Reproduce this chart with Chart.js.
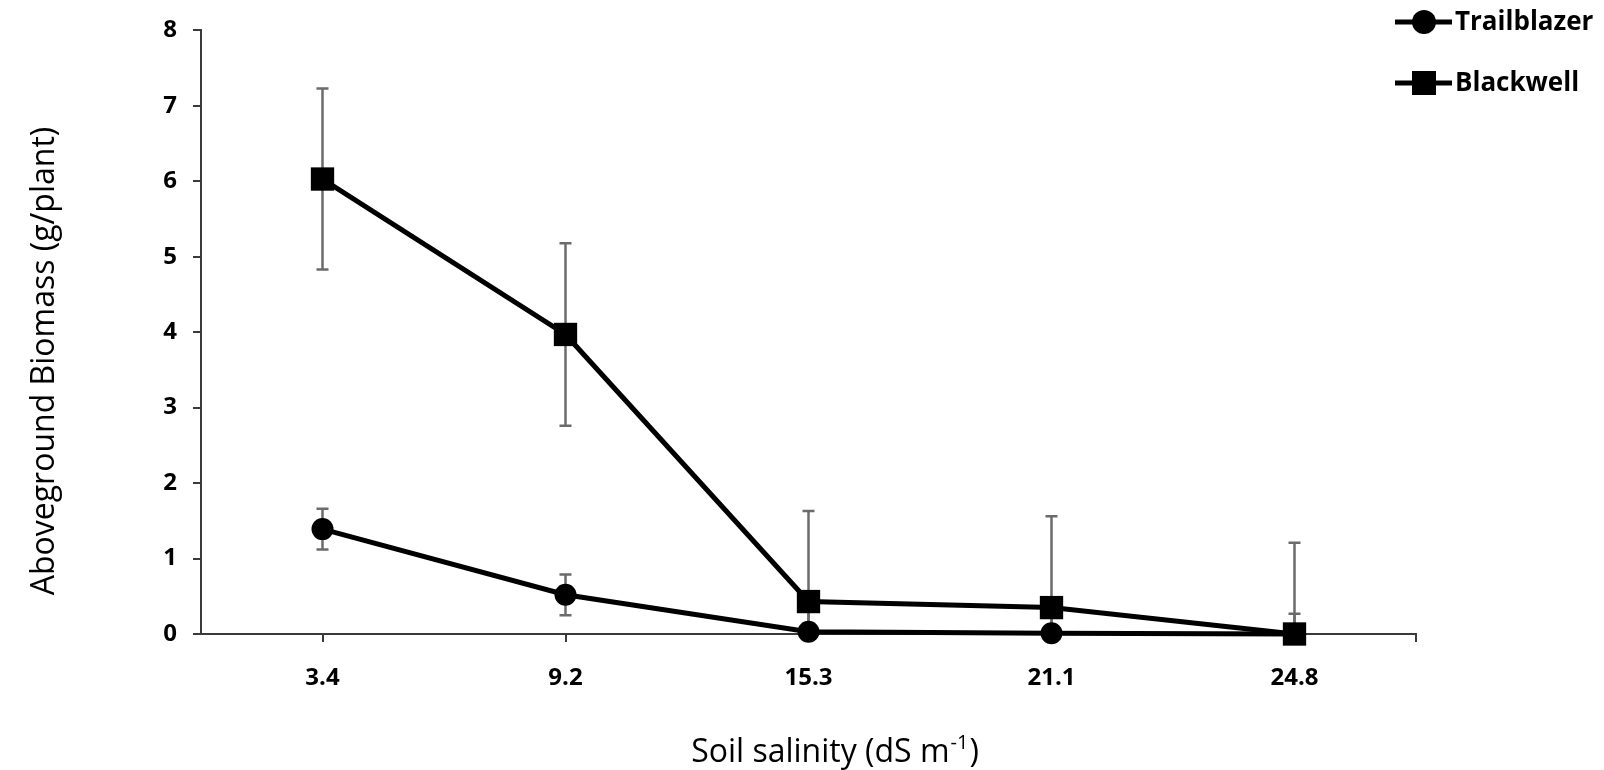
<!DOCTYPE html>
<html>
<head>
<meta charset="utf-8">
<script src="https://cdn.jsdelivr.net/npm/chart.js@4.4.1/dist/chart.umd.min.js"></script>
<style>
  html, body { margin: 0; padding: 0; background: #fff; }
  #wrap { width: 1604px; height: 770px; position: relative; }
</style>
</head>
<body>
<div id="wrap"><canvas id="biomassChart"></canvas></div>
<script>
// soil salinity levels (dS m-1)
var salinity = ["3.4", "9.2", "15.3", "21.1", "24.8"];
// aboveground biomass, g/plant
var trailblazer = [1.39, 0.52, 0.03, 0.01, 0.00];
var blackwell = [6.03, 3.97, 0.43, 0.35, 0.00];
// error bar half-widths
var trailblazerErr = [0.27, 0.27, 0.27, 0.27, 0.27];
var blackwellErr = [1.20, 1.21, 1.20, 1.21, 1.21];
var yTicks = [0, 1, 2, 3, 4, 5, 6, 7, 8];
var yTitle = "Aboveground Biomass (g/plant)";
var xTitle = ["Soil salinity (dS m", "-1", ")"];

var FONT = '"Open Sans", "Noto Sans", sans-serif';
var AXIS = '#3a3a3a';

// vertical error bars, drawn under the markers and cut off at the x axis
var errorBars = {
  id: 'errorBars',
  beforeDatasetsDraw: function(chart) {
    var ctx = chart.ctx, area = chart.chartArea, y = chart.scales.y;
    ctx.save();
    ctx.beginPath();
    ctx.rect(area.left, area.top - 20, area.right - area.left, area.bottom - area.top + 20);
    ctx.clip();
    ctx.strokeStyle = '#6b6b6b';
    ctx.lineWidth = 2.5;
    chart.data.datasets.forEach(function(ds, i) {
      var meta = chart.getDatasetMeta(i);
      ds.errors.forEach(function(e, j) {
        var px = meta.data[j].x;
        var top = y.getPixelForValue(ds.data[j] + e);
        var bot = y.getPixelForValue(ds.data[j] - e);
        ctx.beginPath();
        ctx.moveTo(px, top); ctx.lineTo(px, bot);
        ctx.moveTo(px - 6, top); ctx.lineTo(px + 6, top);
        ctx.moveTo(px - 6, bot); ctx.lineTo(px + 6, bot);
        ctx.stroke();
      });
    });
    ctx.restore();
  }
};

// axis titles, legend and the closing tick at the end of the x axis
var decorations = {
  id: 'decorations',
  afterDraw: function(chart) {
    var ctx = chart.ctx, area = chart.chartArea;
    ctx.save();

    ctx.strokeStyle = AXIS;
    ctx.lineWidth = 2;
    ctx.beginPath();
    ctx.moveTo(area.right, area.bottom);
    ctx.lineTo(area.right, area.bottom + 8);
    ctx.stroke();

    ctx.fillStyle = '#000';
    ctx.font = '32px ' + FONT;
    ctx.textBaseline = 'alphabetic';

    ctx.save();
    ctx.translate(54, 361);
    ctx.rotate(-Math.PI / 2);
    ctx.textAlign = 'center';
    ctx.fillText(yTitle, 0, 0);
    ctx.restore();

    ctx.textAlign = 'left';
    var w0 = ctx.measureText(xTitle[0]).width;
    ctx.font = '20px ' + FONT;
    var w1 = ctx.measureText(xTitle[1]).width;
    ctx.font = '32px ' + FONT;
    var w2 = ctx.measureText(xTitle[2]).width;
    var x0 = 834 - (w0 + w1 + w2) / 2, base = 762;
    ctx.fillText(xTitle[0], x0, base);
    ctx.font = '20px ' + FONT;
    ctx.fillText(xTitle[1], x0 + w0 + 1, base - 13);
    ctx.font = '32px ' + FONT;
    ctx.fillText(xTitle[2], x0 + w0 + w1 + 2, base);

    // legend
    ctx.font = 'bold 26px ' + FONT;
    ctx.textBaseline = 'middle';
    chart.data.datasets.forEach(function(ds, i) {
      var ly = 22 + 61 * i;
      ctx.strokeStyle = '#000';
      ctx.lineWidth = 5;
      ctx.beginPath();
      ctx.moveTo(1395, ly);
      ctx.lineTo(1452, ly);
      ctx.stroke();
      ctx.fillStyle = '#000';
      if (ds.pointStyle === 'rect') {
        ctx.fillRect(1412, ly - 12, 24, 24);
      } else {
        ctx.beginPath();
        ctx.arc(1424, ly, 12, 0, Math.PI * 2);
        ctx.fill();
      }
      ctx.fillText(ds.label, 1455, ly + 1);
    });
    ctx.restore();
  }
};

var ctx = document.getElementById('biomassChart').getContext('2d');
var chart = new Chart(ctx, {
  type: 'line',
  data: {
    labels: salinity,
    datasets: [{
      label: 'Trailblazer',
      data: trailblazer,
      errors: trailblazerErr,
      borderColor: '#000',
      borderWidth: 5,
      pointStyle: 'circle',
      pointRadius: 11,
      pointBackgroundColor: '#000',
      pointBorderWidth: 0,
      tension: 0,
      clip: false,
      order: 1
    }, {
      label: 'Blackwell',
      data: blackwell,
      errors: blackwellErr,
      borderColor: '#000',
      borderWidth: 5,
      pointStyle: 'rect',
      pointRadius: 16.5,
      pointBackgroundColor: '#000',
      pointBorderWidth: 0,
      tension: 0,
      clip: false,
      order: 0
    }]
  },
  options: {
    responsive: true,
    maintainAspectRatio: false,
    animation: false,
    events: [],
    layout: { padding: { left: 0, right: 188, top: 29, bottom: 0 } },
    plugins: {
      legend: { display: false },
      tooltip: { enabled: false }
    },
    scales: {
      x: {
        type: 'category',
        offset: true,
        grid: { offset: false, drawOnChartArea: false, drawTicks: true, tickLength: 8, color: AXIS, lineWidth: 2 },
        border: { color: AXIS, width: 2 },
        ticks: { color: '#000', font: { family: FONT, size: 24, weight: 'bold' }, padding: 22 },
        afterFit: function(s) { s.height = 136; }
      },
      y: {
        min: yTicks[0],
        max: yTicks[yTicks.length - 1],
        grid: { drawOnChartArea: false, drawTicks: true, tickLength: 8, color: AXIS, lineWidth: 2 },
        border: { color: AXIS, width: 2 },
        ticks: { stepSize: yTicks[1] - yTicks[0], color: '#000', font: { family: FONT, size: 24, weight: 'bold' }, padding: 16 },
        afterFit: function(s) { s.width = 201; }
      }
    }
  },
  plugins: [errorBars, decorations]
});
</script>
</body>
</html>
